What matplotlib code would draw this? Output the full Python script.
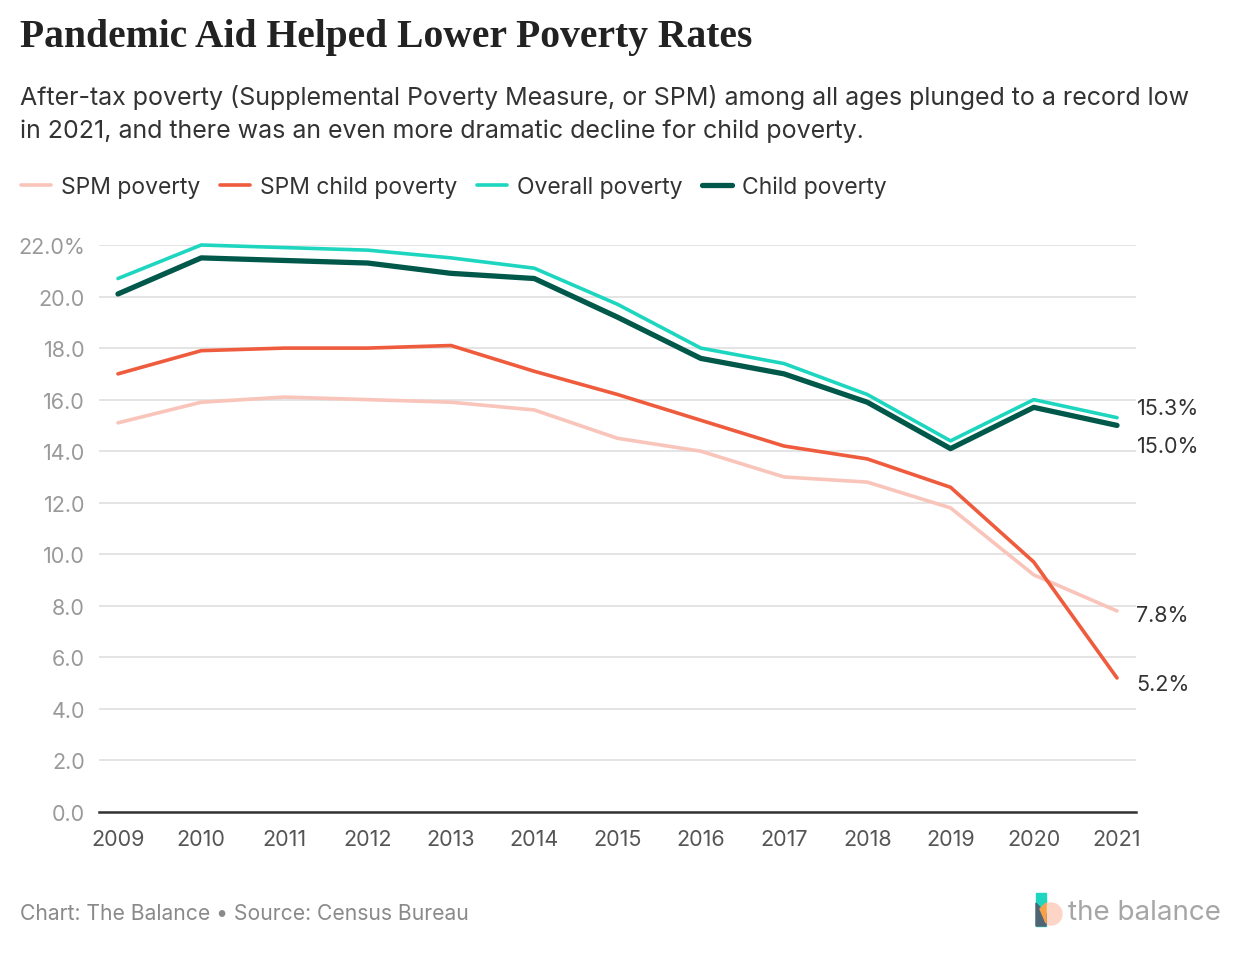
import matplotlib.pyplot as plt
from matplotlib.patches import Rectangle, Circle, Polygon
from matplotlib.ticker import FixedLocator

years = [2009, 2010, 2011, 2012, 2013, 2014, 2015, 2016, 2017, 2018, 2019, 2020, 2021]
spm_poverty = [15.1, 15.9, 16.1, 16.0, 15.9, 15.6, 14.5, 14.0, 13.0, 12.8, 11.8, 9.2, 7.8]
spm_child = [17.0, 17.9, 18.0, 18.0, 18.1, 17.1, 16.2, 15.2, 14.2, 13.7, 12.6, 9.7, 5.2]
overall = [20.7, 22.0, 21.9, 21.8, 21.5, 21.1, 19.7, 18.0, 17.4, 16.2, 14.4, 16.0, 15.3]
child = [20.1, 21.5, 21.4, 21.3, 20.9, 20.7, 19.2, 17.6, 17.0, 15.9, 14.1, 15.7, 15.0]
yticks = [0, 2, 4, 6, 8, 10, 12, 14, 16, 18, 20, 22]

body = ['Inter', 'DejaVu Sans']

fig = plt.figure(figsize=(12.4, 9.54), dpi=100)
ax = fig.add_axes([99 / 1240, 1 - 813 / 954, (1136 - 99) / 1240, (813 - 246) / 954])

series = [
    ('SPM poverty', spm_poverty, '#F9C4BA', 2.6),
    ('SPM child poverty', spm_child, '#EF5B3D', 2.6),
    ('Overall poverty', overall, '#1ED6BF', 2.6),
    ('Child poverty', child, '#00584A', 3.8),
]
for name, vals, col, lw in series:
    ax.plot(years, vals, color=col, lw=lw, label=name, clip_on=False,
            solid_capstyle='round', solid_joinstyle='round')

ax.set_xlim(2009 - 0.228, 2021 + 0.228)
ax.set_ylim(0, 22)
ax.yaxis.set_major_locator(FixedLocator(yticks))
ax.set_yticklabels([f'{v:.1f}%' if v == 22 else f'{v:.1f}' for v in yticks],
                   fontfamily=body, fontsize=15.5, color='#9a9a9a')
ax.set_xticks(years)
ax.set_xticklabels([str(y) for y in years], fontfamily=body, fontsize=15.5, color='#555555')
ax.tick_params(axis='both', length=0)
ax.tick_params(axis='y', pad=10)
ax.tick_params(axis='x', pad=12)
ax.grid(axis='y', color='#e2e2e2', lw=1.3)
ax.set_axisbelow(True)
for s in ['top', 'right', 'left']:
    ax.spines[s].set_visible(False)
ax.spines['bottom'].set_color('#333333')
ax.spines['bottom'].set_linewidth(1.8)
ax.spines['bottom'].set_zorder(5)

# end labels
ends = [(overall[-1], 7), (child[-1], -15), (spm_poverty[-1], -3), (spm_child[-1], -4)]
for v, dy in ends:
    ax.annotate(f'{v:.1f}%', xy=(years[-1], v), xytext=(14, dy), textcoords='offset points',
                va='center', ha='left', fontsize=15.5, fontfamily=body, color='#333333',
                annotation_clip=False)

fig.text(20 / 1240, 1 - 38 / 954, 'Pandemic Aid Helped Lower Poverty Rates',
         fontfamily='Liberation Serif', fontweight='bold', fontsize=28.5, color='#222222', va='center')
fig.text(20 / 1240, 1 - 114 / 954,
         'After-tax poverty (Supplemental Poverty Measure, or SPM) among all ages plunged to a record low\n'
         'in 2021, and there was an even more dramatic decline for child poverty.',
         fontfamily=body, fontsize=18, color='#333333', va='center', linespacing=1.55)

fig.legend(loc='center left', bbox_to_anchor=(12 / 1240, 1 - 188 / 954), ncol=4, frameon=False,
           prop={'family': body, 'size': 16.5}, handlelength=1.3, handletextpad=0.45,
           columnspacing=0.85, labelcolor='#333333', borderaxespad=0)

fig.text(20 / 1240, 1 - 914 / 954, 'Chart: The Balance \u2022 Source: Census Bureau',
         fontfamily=body, fontsize=15.2, color='#8a8a8a', va='center')

# logo
lax = fig.add_axes([1030 / 1240, 1 - 932 / 954, 40 / 1240, 44 / 954])
lax.set_xlim(0, 40)
lax.set_ylim(0, 44)
lax.axis('off')
lax.add_patch(Rectangle((6, 5), 10, 33, color='#1ED6BF'))
lax.add_patch(Circle((21, 17), 11, color='#FDD5C6'))
lax.add_patch(Polygon([(6, 5), (16, 5), (16, 17), (6, 28)], color='#4f6475'))
lax.add_patch(Polygon([(16, 8), (16, 28), (10, 22)], color='#F5A24B'))
fig.text(1068 / 1240, 1 - 913 / 954, 'the balance', fontfamily=body, fontsize=20,
         color='#a6a6a6', va='center')

fig.savefig('out.png', dpi=100, facecolor='white')
